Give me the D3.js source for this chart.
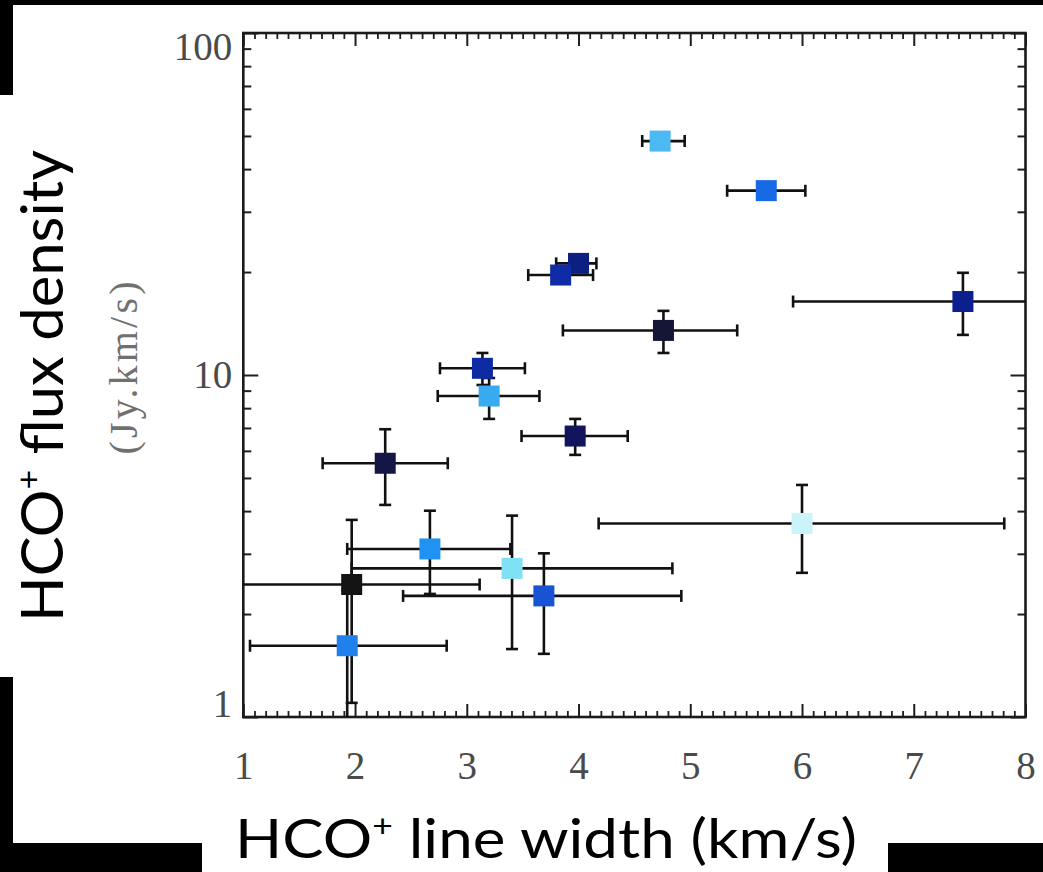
<!DOCTYPE html>
<html>
<head>
<meta charset="utf-8">
<script src="https://cdn.jsdelivr.net/npm/d3@7"></script>
<style>
  body { margin: 0; background: #fff; }
  svg { display: block; }
</style>
</head>
<body>
<svg id="chart" width="1043" height="872"></svg>
<script>
// HCO+ line width (km/s) with its error range
const lineWidth   = [4.73, 5.68, 7.44, 4.76, 4.00, 3.84, 3.14, 3.20, 3.97, 2.27, 2.67, 3.405, 1.97, 1.93, 3.69, 6.00];
const lineWidthLo = [4.57, 5.33, 5.92, 3.86, 3.80, 3.55, 2.76, 2.74, 3.49, 1.71, 1.93, 1.97, 0.80, 1.06, 2.43, 4.18];
const lineWidthHi = [4.95, 6.03, 8.50, 5.42, 4.16, 4.13, 3.52, 3.65, 4.44, 2.83, 3.39, 4.84, 3.115, 2.82, 4.92, 7.81];
// HCO+ integrated flux density (Jy.km/s) with its error range
const fluxDensity = [48.3, 34.6, 16.4, 13.5, 21.2, 19.6, 10.46, 8.68, 6.63, 5.52, 3.10, 2.72, 2.44, 1.616, 2.26, 3.68];
const fluxLo      = [48.3, 34.6, 13.1, 11.6, 21.2, 19.6, 9.35, 7.44, 5.84, 4.17, 2.29, 1.58, 1.10, 0.80, 1.53, 2.64];
const fluxHi      = [48.3, 34.6, 19.9, 15.4, 21.2, 19.6, 11.6, 9.80, 7.44, 6.94, 4.01, 3.88, 3.77, 2.35, 3.01, 4.77];
const pointColor  = ["#4cb9f2", "#176ae6", "#0b1f8f", "#151636", "#0c1f82", "#0f2ca6", "#0f2ba2", "#38aaf0",
                     "#12145c", "#161646", "#2092f2", "#80e0f4", "#141414", "#2080ec", "#1853d4", "#cbf4fa"];

const xTickLabels = [1, 2, 3, 4, 5, 6, 7, 8];
const yTickLabels = [1, 10, 100];

const svg = d3.select("#chart");
const W = 1043, H = 872;
const plot = { left: 243.3, right: 1025.5, top: 33, bottom: 717 };

svg.append("rect").attr("width", W).attr("height", H).attr("fill", "#fff");

const x = d3.scaleLinear().domain([1, 8]).range([plot.left, plot.right]);
const y = d3.scaleLog().domain([1, 100]).range([plot.bottom, plot.top]);

const points = lineWidth.map((v, i) => ({
  x: v, xlo: lineWidthLo[i], xhi: lineWidthHi[i],
  y: fluxDensity[i], ylo: fluxLo[i], yhi: fluxHi[i],
  color: pointColor[i]
}));

// clip everything inside the frame
svg.append("clipPath").attr("id", "plotClip")
  .append("rect")
  .attr("x", plot.left).attr("y", plot.top)
  .attr("width", plot.right - plot.left).attr("height", plot.bottom - plot.top);

// ---- axes: major and minor ticks on all four sides, pointing inward ----
const xMinor = d3.range(10, 81).filter(i => i % 10 !== 0).map(i => i / 10);
const yMinor = [2, 3, 4, 5, 6, 7, 8, 9, 20, 30, 40, 50, 60, 70, 80, 90];
const tickColor = "#1e1e1e";
const serif = "'Liberation Serif', 'DejaVu Serif', serif";
const labelGrey = "#4a4a4a";

function styleAxis(g, width) {
  g.select(".domain").remove();
  g.selectAll(".tick line").attr("stroke", tickColor).attr("stroke-width", width);
}

// bottom
const gxb = svg.append("g").attr("transform", `translate(0,${plot.bottom})`)
  .call(d3.axisBottom(x).tickValues(xTickLabels).tickSize(-13).tickPadding(34).tickFormat(d3.format("d")));
styleAxis(gxb, 2);
gxb.selectAll("text")
  .attr("font-family", serif).attr("font-size", 39).attr("fill", labelGrey);
svg.append("g").attr("transform", `translate(0,${plot.bottom})`)
  .call(d3.axisBottom(x).tickValues(xMinor).tickSize(-6).tickFormat(""))
  .call(g => styleAxis(g, 1.8));

// top
svg.append("g").attr("transform", `translate(0,${plot.top})`)
  .call(d3.axisTop(x).tickValues(xTickLabels).tickSize(-13).tickFormat(""))
  .call(g => styleAxis(g, 2));
svg.append("g").attr("transform", `translate(0,${plot.top})`)
  .call(d3.axisTop(x).tickValues(xMinor).tickSize(-6).tickFormat(""))
  .call(g => styleAxis(g, 1.8));

// left
const gyl = svg.append("g").attr("transform", `translate(${plot.left},0)`)
  .call(d3.axisLeft(y).tickValues(yTickLabels).tickSize(-15).tickPadding(11).tickFormat(d3.format("d")));
styleAxis(gyl, 2);
gyl.selectAll("text")
  .attr("font-family", serif).attr("font-size", 39).attr("fill", labelGrey)
  // lowest label sits above its tick, highest below its tick, others centred
  .attr("dy", (d, i, n) => i === 0 ? "-0.02em" : (i === n.length - 1 ? "0.68em" : "0.32em"));
svg.append("g").attr("transform", `translate(${plot.left},0)`)
  .call(d3.axisLeft(y).tickValues(yMinor).tickSize(-8).tickFormat(""))
  .call(g => styleAxis(g, 2));

// right
svg.append("g").attr("transform", `translate(${plot.right},0)`)
  .call(d3.axisRight(y).tickValues(yTickLabels).tickSize(-15).tickFormat(""))
  .call(g => styleAxis(g, 2));
svg.append("g").attr("transform", `translate(${plot.right},0)`)
  .call(d3.axisRight(y).tickValues(yMinor).tickSize(-8).tickFormat(""))
  .call(g => styleAxis(g, 2));

// frame
svg.append("rect")
  .attr("x", plot.left).attr("y", plot.top)
  .attr("width", plot.right - plot.left).attr("height", plot.bottom - plot.top)
  .attr("fill", "none").attr("stroke", "#1a1a1a").attr("stroke-width", 2.6);

// ---- error bars ----
const cap = 6;
const bars = svg.append("g").attr("clip-path", "url(#plotClip)")
  .attr("stroke", "#111").attr("stroke-width", 2.6).attr("fill", "none");

points.forEach(p => {
  const cx = x(p.x), cy = y(p.y);
  if (p.xhi > p.xlo) {
    bars.append("line").attr("x1", x(p.xlo)).attr("x2", x(p.xhi)).attr("y1", cy).attr("y2", cy);
    bars.append("line").attr("x1", x(p.xlo)).attr("x2", x(p.xlo)).attr("y1", cy - cap).attr("y2", cy + cap);
    bars.append("line").attr("x1", x(p.xhi)).attr("x2", x(p.xhi)).attr("y1", cy - cap).attr("y2", cy + cap);
  }
  if (p.yhi > p.ylo) {
    bars.append("line").attr("x1", cx).attr("x2", cx).attr("y1", y(p.ylo)).attr("y2", y(p.yhi));
    bars.append("line").attr("x1", cx - cap).attr("x2", cx + cap).attr("y1", y(p.ylo)).attr("y2", y(p.ylo));
    bars.append("line").attr("x1", cx - cap).attr("x2", cx + cap).attr("y1", y(p.yhi)).attr("y2", y(p.yhi));
  }
});

// ---- filled square markers ----
const side = 21;
svg.append("g").selectAll("rect.pt")
  .data(points)
  .join("rect")
  .attr("class", "pt")
  .attr("x", d => x(d.x) - side / 2)
  .attr("y", d => y(d.y) - side / 2)
  .attr("width", side).attr("height", side)
  .attr("fill", d => d.color);

// ---- axis titles ----
const sans = "Lato, 'Open Sans', 'Noto Sans', sans-serif";

const xt = svg.append("text")
  .attr("x", 235).attr("y", 858)
  .attr("font-family", sans).attr("font-size", 54).attr("fill", "#000")
  .attr("textLength", 622).attr("lengthAdjust", "spacingAndGlyphs");
xt.append("tspan").text("HCO");
xt.append("tspan").attr("font-size", 31).attr("dy", -21).text("+");
xt.append("tspan").attr("dy", 21).text(" line width (km/s)");

const yt = svg.append("text")
  .attr("transform", "translate(63,386) rotate(-90)")
  .attr("text-anchor", "middle")
  .attr("font-family", sans).attr("font-size", 58).attr("fill", "#000")
  .attr("textLength", 472).attr("lengthAdjust", "spacingAndGlyphs");
yt.append("tspan").text("HCO");
yt.append("tspan").attr("font-size", 33).attr("dy", -23).text("+");
yt.append("tspan").attr("dy", 23).text(" flux density");

svg.append("text")
  .attr("transform", "translate(137,368) rotate(-90)")
  .attr("text-anchor", "middle")
  .attr("font-family", serif)
  .attr("font-size", 40).attr("fill", "#707070")
  .attr("textLength", 173).attr("lengthAdjust", "spacing")
  .text("(Jy.km/s)");

// ---- black border strips around the figure ----
const strips = svg.append("g").attr("fill", "#000");
strips.append("rect").attr("x", 0).attr("y", 0).attr("width", W).attr("height", 5);
strips.append("rect").attr("x", 0).attr("y", 0).attr("width", 13).attr("height", 95);
strips.append("rect").attr("x", 0).attr("y", 677).attr("width", 13).attr("height", H - 677);
strips.append("rect").attr("x", 0).attr("y", 843).attr("width", 202).attr("height", H - 843);
strips.append("rect").attr("x", 888).attr("y", 843).attr("width", W - 888).attr("height", H - 843);
</script>
</body>
</html>
